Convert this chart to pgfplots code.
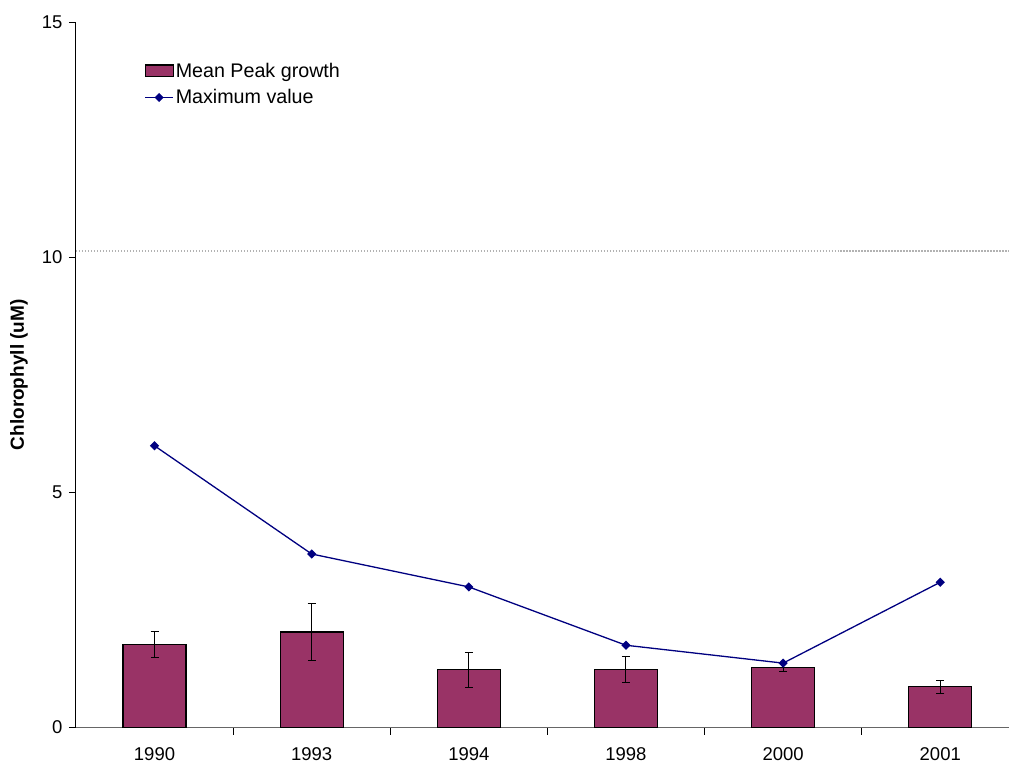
\documentclass[border=0pt]{standalone}
\usepackage{fontspec}
\setmainfont{Liberation Sans}
\usepackage{pgfplots}
\usepackage{pgfplotstable}
\pgfplotsset{compat=1.18}
\usetikzlibrary{calc}
\definecolor{plum}{HTML}{993366}
\definecolor{navyb}{HTML}{000080}
\pgfplotsset{
  barleg/.style={legend image code/.code={\draw[fill=plum, draw=black, line width=1.2bp] (0bp,-5.8bp) rectangle (28bp,5.8bp);}},
  lineleg/.style={legend image code/.code={\draw[mark repeat=2,mark phase=2,##1] plot coordinates {(0bp,0bp) (14bp,0bp) (28bp,0bp)};}},
}
\pgfplotstableread{
x y e
0 1.77 0.27
1 2.03 0.61
2 1.23 0.37
3 1.24 0.28
4 1.275 0.09
5 0.87 0.14
}\bardata
\pgfplotstableread{
x y
0 5.99
1 3.69
2 2.99
3 1.75
4 1.37
5 3.09
}\maxdata
\begin{document}
\begin{tikzpicture}
\begin{axis}[
 name=ax,
 scale only axis,
 width=934bp, height=706bp,
 xmin=-0.5, xmax=5.44,
 ymin=0, ymax=15,
 axis lines*=left,
 x axis line style={color=gray!80!black, line width=1.2bp},
 y axis line style={black, line width=1bp},
 xtick={0,...,5},
 xticklabels={1990,1993,1994,1998,2000,2001},
 major x tick style={draw=none},
 minor xtick={0.5,1.5,2.5,3.5,4.5},
 minor x tick style={black, line width=0.8bp},
 minor tick length=7bp,
 ytick={0,5,10,15},
 major tick length=7bp,
 tick align=outside,
 y tick style={black, line width=0.8bp},
 tick label style={font=\fontsize{18.5bp}{21bp}\selectfont},
 xticklabel style={yshift=-10bp},
 yticklabel style={xshift=-3bp},
 /pgf/number format/assume math mode=true,
 ylabel={Chlorophyll (uM)},
 ylabel style={font=\fontsize{19bp}{22bp}\selectfont\bfseries, at={(axis description cs:-0.061,0.5)}, anchor=center},
 legend style={at={(0.07,0.948)}, anchor=north west, draw=none, fill=none,
   font=\fontsize{19.7bp}{23bp}\selectfont, row sep=7bp, nodes={inner sep=2bp}},
 legend cell align=left,
]
\addplot[gray!60, line width=1.2bp, dash pattern=on 1.5bp off 1.5bp, forget plot] coordinates {(-0.5,10.13) (5.44,10.13)};
\addplot[ybar, bar width=0.4, fill=plum, draw=black, line width=1.2bp, barleg,
  error bars/.cd, y dir=both, y explicit,
  error bar style={black, line width=1bp},
  error mark options={black, rotate=90, mark size=4bp, line width=1bp}]
  table[x=x, y=y, y error=e] {\bardata};
\addlegendentry{Mean Peak growth}
\addplot[navyb, line width=1.3bp, mark=square*, mark size=2.6bp,
  mark options={rotate=45, fill=navyb, draw=navyb}, lineleg]
  table[x=x, y=y] {\maxdata};
\addlegendentry{Maximum value}
\end{axis}
\path ($(ax.south west)+(-76bp,-39bp)$) rectangle ($(ax.north east)+(0bp,22bp)$);
\end{tikzpicture}
\end{document}
